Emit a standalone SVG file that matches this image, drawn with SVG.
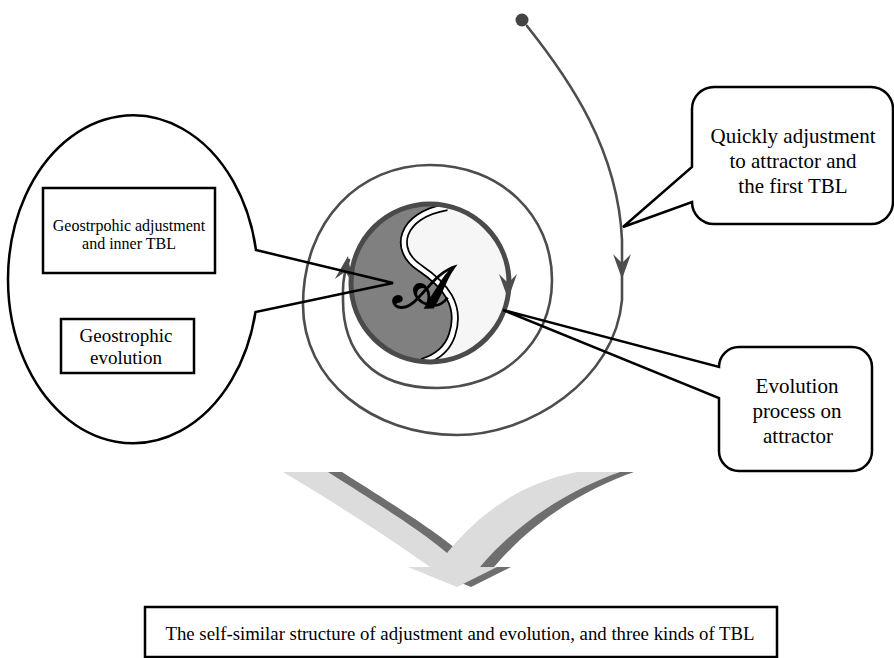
<svg xmlns="http://www.w3.org/2000/svg" width="894" height="658" viewBox="0 0 894 658">
<style>
  .lbl { font-family: "Liberation Serif", "Times New Roman", serif; fill: #000; text-anchor: middle; }
  .call { fill: none; stroke: #000; stroke-width: 2.5; stroke-linejoin: miter; }
  .box { fill: none; stroke: #000; stroke-width: 2.5; }
  .traj { fill: none; stroke: #4d4d4d; stroke-width: 2.6; stroke-linecap: round; }
</style>
<defs>
  <path id="ah" d="M0,0 L-9,-25 L0,-16 L9,-25 Z" fill="#4d4d4d"/>
  <clipPath id="disc"><circle cx="430" cy="283" r="79"/></clipPath>
</defs>
<rect x="0" y="0" width="894" height="658" fill="#ffffff"/>

<!-- attractor -->
<g id="attractor">
  <circle cx="430" cy="283" r="79" fill="#f6f6f6"/>
  <g clip-path="url(#disc)">
    <path d="M447,207 C400,215 392,250 420,268 C445,285 462,305 452,335 C447,350 435,358 422,362 L330,380 L330,190 Z" fill="#808080"/>
    <path d="M447,207 C400,215 392,250 420,268 C445,285 462,305 452,335 C447,350 435,358 422,362" fill="none" stroke="#000" stroke-width="8"/>
    <path d="M447,207 C400,215 392,250 420,268 C445,285 462,305 452,335 C447,350 435,358 422,362" fill="none" stroke="#fff" stroke-width="4.5"/>
  </g>
  <circle cx="430" cy="283" r="79" fill="none" stroke="#4a4a4a" stroke-width="5"/>
  <text x="421" y="308" class="lbl" font-size="60" font-weight="bold">𝒜</text>
</g>

<!-- connectors -->
<g id="connectors">
  <circle cx="522" cy="20" r="6.5" fill="#444"/>
  <path class="traj" d="M527,26 C570,80 618,150 622,240 L622,300 C615,380 530,435 457,435 C372,435 303,380 303,305 C303,220 360,165 430,165 C500,165 552,215 552,280 C552,345 500,388 437,388 C370,388 343,350 343,300 L343,290 C343,280 345,270 349,260"/>
  <use href="#ah" transform="translate(622,279)"/>
  <use href="#ah" transform="translate(508,299)"/>
  <use href="#ah" transform="translate(348,256) rotate(190)"/>
</g>

<!-- left callout -->
<g id="callout-left">
  <path class="call" d="M256,250 L393,283 L255.5,312 A125 164 0 1 1 256,250 Z"/>
  <g id="box-geo-adjust">
    <rect class="box" x="43" y="188" width="172" height="85"/>
    <text class="lbl" x="129" y="231" font-size="16">Geostrpohic adjustment</text>
    <text class="lbl" x="129" y="249" font-size="16">and inner TBL</text>
  </g>
  <g id="box-geo-evol">
    <rect class="box" x="61" y="319" width="133" height="54"/>
    <text class="lbl" x="126" y="342" font-size="19">Geostrophic</text>
    <text class="lbl" x="126" y="364" font-size="19">evolution</text>
  </g>
</g>

<!-- top-right callout -->
<g id="callout-quick">
  <path class="call" d="M714,87 H871 A22 22 0 0 1 893,109 V202 A22 22 0 0 1 871,224 H714 A22 22 0 0 1 692,202 L623,227 L692,167 V109 A22 22 0 0 1 714,87 Z"/>
  <text class="lbl" x="793" y="143" font-size="21">Quickly adjustment</text>
  <text class="lbl" x="793" y="168" font-size="21">to attractor and</text>
  <text class="lbl" x="793" y="193" font-size="21">the first TBL</text>
</g>

<!-- bottom-right callout -->
<g id="callout-evolution">
  <path class="call" d="M739,347 H852 A20 20 0 0 1 872,367 V451 A20 20 0 0 1 852,471 H739 A20 20 0 0 1 719,451 V398 L503,310 L719,367 A20 20 0 0 1 739,347 Z"/>
  <text class="lbl" x="797" y="393" font-size="21">Evolution</text>
  <text class="lbl" x="797" y="418" font-size="21">process on</text>
  <text class="lbl" x="798" y="443" font-size="21">attractor</text>
</g>

<!-- big chevron arrow -->
<g id="chevron">
  <path transform="translate(14,0)" fill="#6e6e6e" d="M283,472 L328,472 C380,505 420,530 447,553 C470,525 510,485 577,472 L620,472 C570,490 520,520 480,567 L497,567 L457,587 L408,567 L430,567 C385,535 330,500 283,472 Z"/>
  <path fill="#dcdcdc" d="M283,472 L328,472 C380,505 420,530 447,553 C470,525 510,485 577,472 L620,472 C570,490 520,520 480,567 L497,567 L457,587 L408,567 L430,567 C385,535 330,500 283,472 Z"/>
</g>

<!-- bottom caption box -->
<g id="summary">
  <rect x="145" y="607" width="632" height="50" fill="none" stroke="#000" stroke-width="2.5"/>
  <text class="lbl" x="460" y="640" font-size="18.8">The self-similar structure of adjustment and evolution, and three kinds of TBL</text>
</g>
</svg>
